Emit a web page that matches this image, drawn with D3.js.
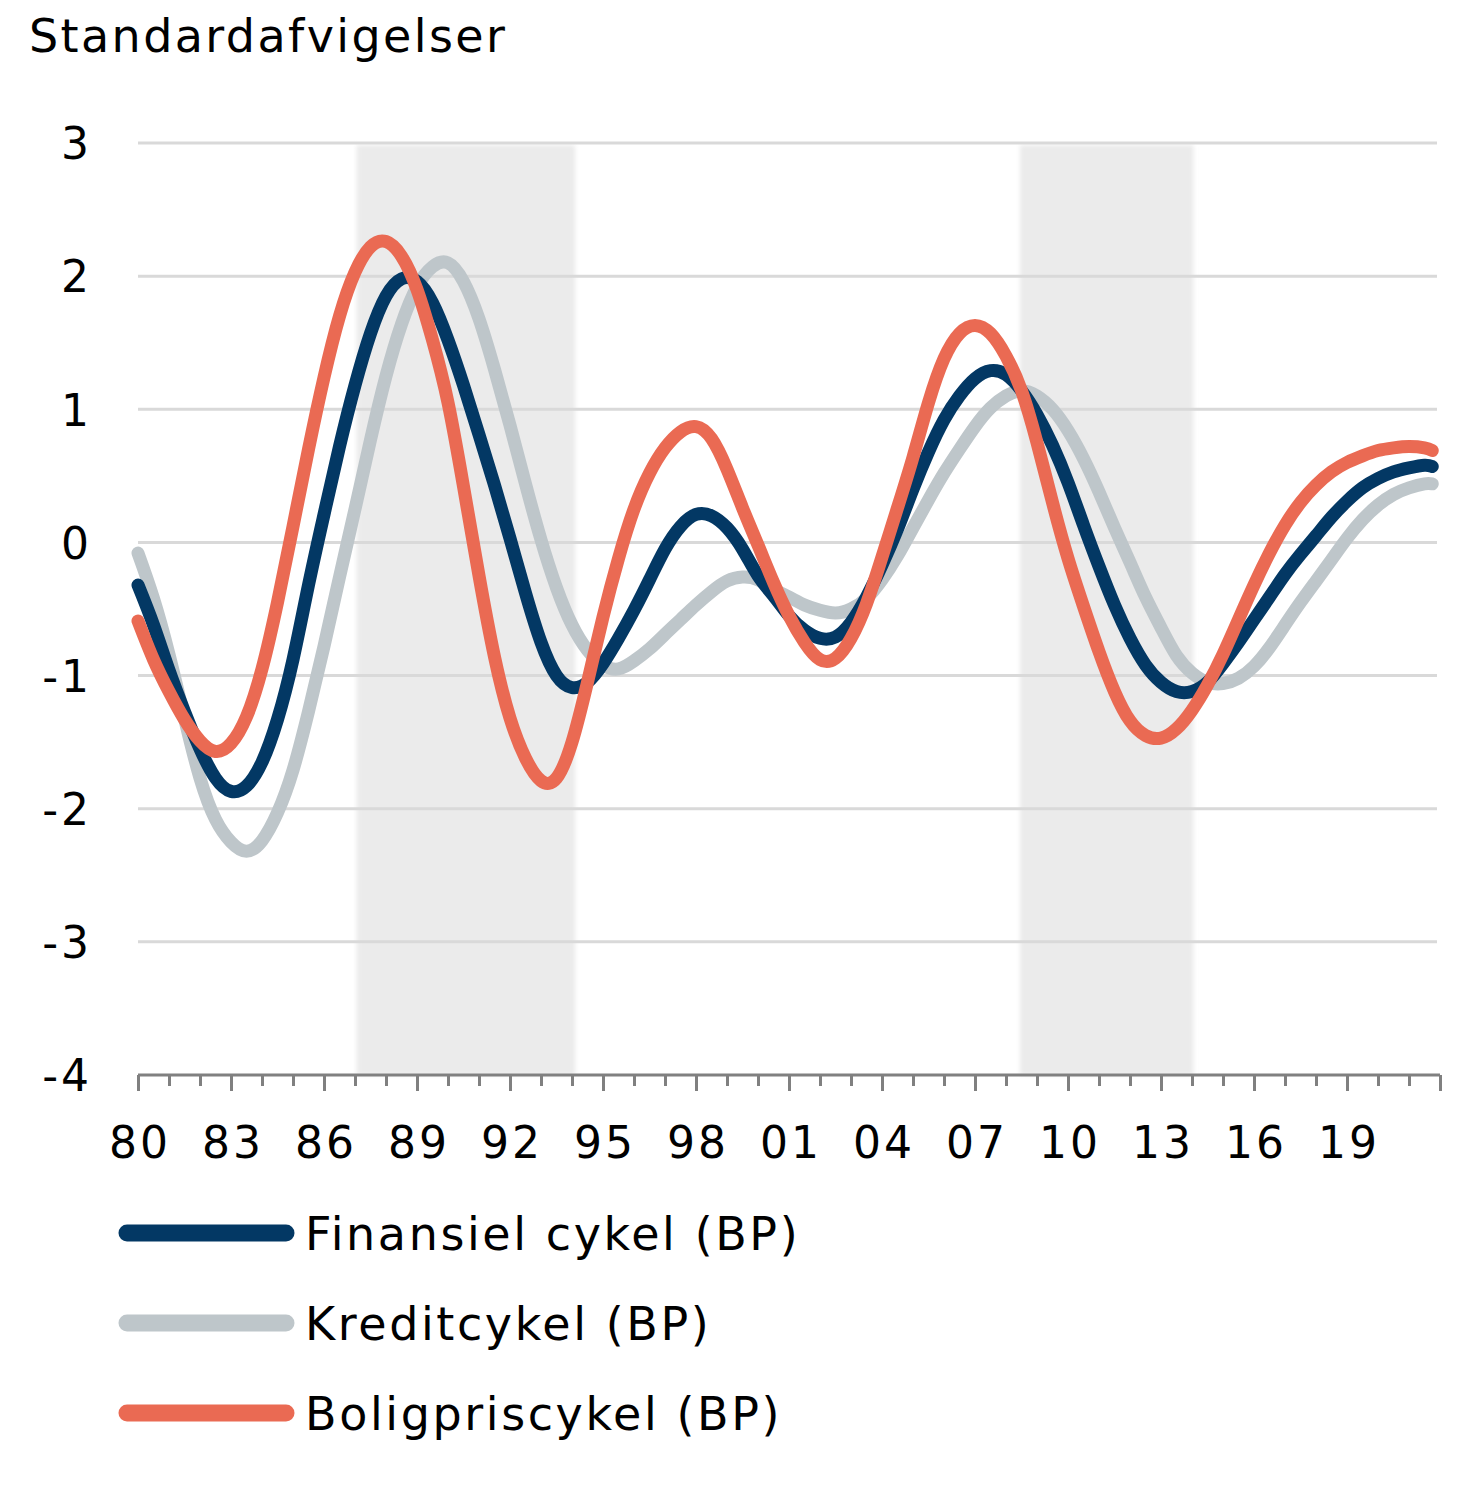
<!DOCTYPE html>
<html>
<head>
<meta charset="utf-8">
<script src="https://cdn.jsdelivr.net/npm/d3@7"></script>
<style>
  body { margin: 0; background: #fff; }
  text { font-family: "DejaVu Sans", Verdana, sans-serif; fill: #000; }
</style>
</head>
<body>
<svg id="chart" width="1481" height="1491"></svg>
<script>
// half-year observations
const years = [
  1980, 1980.5, 1981, 1981.5, 1982, 1982.5, 1983, 1983.5, 1984, 1984.5,
  1985, 1985.5, 1986, 1986.5, 1987, 1987.5, 1988, 1988.5, 1989, 1989.5,
  1990, 1990.5, 1991, 1991.5, 1992, 1992.5, 1993, 1993.5, 1994, 1994.5,
  1995, 1995.5, 1996, 1996.5, 1997, 1997.5, 1998, 1998.5, 1999, 1999.5,
  2000, 2000.5, 2001, 2001.5, 2002, 2002.5, 2003, 2003.5, 2004, 2004.5,
  2005, 2005.5, 2006, 2006.5, 2007, 2007.5, 2008, 2008.5, 2009, 2009.5,
  2010, 2010.5, 2011, 2011.5, 2012, 2012.5, 2013, 2013.5, 2014, 2014.5,
  2015, 2015.5, 2016, 2016.5, 2017, 2017.5, 2018, 2018.5, 2019, 2019.5,
  2020, 2020.5, 2021, 2021.5, 2021.75
];

const finansiel = [
  -0.32, -0.62, -0.96, -1.27, -1.55, -1.77, -1.87, -1.83, -1.65, -1.33,
  -0.88, -0.32, 0.21, 0.72, 1.18, 1.57, 1.85, 1.98, 1.96, 1.80,
  1.52, 1.18, 0.81, 0.43, 0.03, -0.38, -0.75, -1.00, -1.09, -1.05,
  -0.91, -0.72, -0.51, -0.28, -0.05, 0.12, 0.21, 0.20, 0.11, -0.05,
  -0.25, -0.40, -0.55, -0.66, -0.72, -0.71, -0.60, -0.41, -0.17, 0.10,
  0.40, 0.68, 0.92, 1.10, 1.23, 1.29, 1.26, 1.14, 0.96, 0.73,
  0.45, 0.13, -0.18, -0.47, -0.72, -0.92, -1.05, -1.12, -1.12, -1.05,
  -0.91, -0.75, -0.58, -0.41, -0.24, -0.09, 0.05, 0.19, 0.31, 0.41,
  0.48, 0.53, 0.56, 0.58, 0.57
];

const kredit = [
  -0.08, -0.42, -0.84, -1.32, -1.77, -2.08, -2.25, -2.32, -2.24, -2.03,
  -1.71, -1.27, -0.78, -0.26, 0.25, 0.77, 1.25, 1.64, 1.92, 2.07,
  2.10, 1.96, 1.68, 1.30, 0.88, 0.44, 0.02, -0.34, -0.62, -0.81,
  -0.92, -0.95, -0.89, -0.80, -0.69, -0.58, -0.47, -0.37, -0.29, -0.26,
  -0.28, -0.35, -0.41, -0.47, -0.51, -0.53, -0.50, -0.42, -0.28, -0.10,
  0.11, 0.32, 0.52, 0.70, 0.87, 1.01, 1.10, 1.14, 1.10, 1.00,
  0.84, 0.63, 0.38, 0.11, -0.15, -0.41, -0.64, -0.85, -0.98, -1.05,
  -1.06, -1.02, -0.93, -0.79, -0.62, -0.45, -0.29, -0.13, 0.03, 0.17,
  0.28, 0.36, 0.41, 0.44, 0.44
];

const boligpris = [
  -0.59, -0.88, -1.12, -1.33, -1.49, -1.57, -1.51, -1.31, -0.95, -0.45,
  0.12, 0.70, 1.24, 1.70, 2.03, 2.22, 2.26, 2.15, 1.90, 1.52,
  1.05, 0.42, -0.25, -0.86, -1.32, -1.62, -1.79, -1.77, -1.50, -1.05,
  -0.56, -0.12, 0.25, 0.52, 0.71, 0.83, 0.87, 0.78, 0.55, 0.26,
  -0.02, -0.30, -0.55, -0.75, -0.88, -0.87, -0.72, -0.46, -0.11, 0.26,
  0.64, 1.05, 1.38, 1.57, 1.63, 1.57, 1.40, 1.14, 0.75, 0.30,
  -0.12, -0.48, -0.82, -1.12, -1.34, -1.45, -1.47, -1.40, -1.26, -1.07,
  -0.84, -0.58, -0.32, -0.08, 0.13, 0.30, 0.43, 0.53, 0.60, 0.65,
  0.69, 0.71, 0.72, 0.71, 0.69
];

// shaded periods
const shadeStart = [1987.05, 2008.45];
const shadeEnd = [1994.1, 2014.05];

const yTicks = [3, 2, 1, 0, -1, -2, -3, -4];
const xLabelYears = [1980, 1983, 1986, 1989, 1992, 1995, 1998, 2001, 2004, 2007, 2010, 2013, 2016, 2019, 2022];
const allYears = d3.range(1980, 2023);

const seriesNames = ['Finansiel cykel (BP)', 'Kreditcykel (BP)', 'Boligpriscykel (BP)'];
const seriesColors = ['#033864', '#bec6ca', '#ea6a53'];
const seriesValues = [finansiel, kredit, boligpris];

const svg = d3.select('#chart');

const x = d3.scaleLinear().domain([1980, 2022]).range([138, 1440]);
const y = d3.scaleLinear().domain([-4, 3]).range([1075, 143]);

// title
svg.append('text')
  .attr('x', 29)
  .attr('y', 52)
  .attr('font-size', 46)
  .attr('letter-spacing', 2.4)
  .text('Standardafvigelser');

// shading
const defs = svg.append('defs');
defs.append('filter').attr('id', 'soft')
  .append('feGaussianBlur').attr('stdDeviation', 2);

svg.append('g')
  .selectAll('rect')
  .data(shadeStart.map((s, i) => ({ s, e: shadeEnd[i] })))
  .join('rect')
  .attr('x', d => x(d.s))
  .attr('width', d => x(d.e) - x(d.s))
  .attr('y', y(3) + 2)
  .attr('height', y(-4) - y(3) - 2)
  .attr('fill', '#ebebeb')
  .attr('filter', 'url(#soft)');

// grid lines
svg.append('g')
  .selectAll('line')
  .data(yTicks.filter(d => d > -4))
  .join('line')
  .attr('x1', 138)
  .attr('x2', 1437)
  .attr('y1', d => y(d))
  .attr('y2', d => y(d))
  .attr('stroke', '#d9d9d9')
  .attr('stroke-width', 3);

// y axis labels
const yAxis = svg.append('g')
  .attr('transform', 'translate(138,0)')
  .call(d3.axisLeft(y).tickValues(yTicks).tickSize(0).tickPadding(46).tickFormat(d => String(d)));
yAxis.select('.domain').remove();
yAxis.selectAll('text')
  .attr('font-size', 44)
  .attr('letter-spacing', 3)
  .attr('font-family', '"DejaVu Sans", Verdana, sans-serif')
  .attr('dy', '0.36em');

// x axis: minor ticks
const xMinor = svg.append('g')
  .attr('transform', `translate(0,${y(-4)})`)
  .call(d3.axisBottom(x).tickValues(allYears).tickSize(11).tickFormat(''));
xMinor.select('.domain').attr('stroke', '#808080').attr('stroke-width', 3).attr('d', `M138,0H1440`);
xMinor.selectAll('.tick line').attr('stroke', '#808080').attr('stroke-width', 3);

// x axis: major ticks + labels
const xMajor = svg.append('g')
  .attr('transform', `translate(0,${y(-4)})`)
  .call(d3.axisBottom(x).tickValues(xLabelYears).tickSize(16).tickPadding(36)
    .tickFormat(d => d === 2022 ? '' : String(d % 100).padStart(2, '0')));
xMajor.select('.domain').remove();
xMajor.selectAll('.tick line').attr('stroke', '#808080').attr('stroke-width', 3);
xMajor.selectAll('text')
  .attr('font-size', 44)
  .attr('letter-spacing', 3)
  .attr('dx', 1.5)
  .attr('font-family', '"DejaVu Sans", Verdana, sans-serif');

// series lines: grey first, then navy, orange on top
const line = d3.line()
  .x((d, i) => x(years[i]))
  .y(d => y(d))
  .curve(d3.curveNatural);

const drawOrder = [1, 0, 2];
svg.append('g')
  .selectAll('path')
  .data(drawOrder)
  .join('path')
  .attr('d', i => line(seriesValues[i]))
  .attr('fill', 'none')
  .attr('stroke', i => seriesColors[i])
  .attr('stroke-width', 13)
  .attr('stroke-linecap', 'round')
  .attr('stroke-linejoin', 'round');

// legend
const legend = svg.append('g');
const legendRows = legend.selectAll('g')
  .data(seriesNames)
  .join('g')
  .attr('transform', (d, i) => `translate(0,${1233 + i * 90})`);

legendRows.append('line')
  .attr('x1', 127)
  .attr('x2', 286)
  .attr('stroke', (d, i) => seriesColors[i])
  .attr('stroke-width', 17)
  .attr('stroke-linecap', 'round');

legendRows.append('text')
  .attr('x', 305)
  .attr('y', 17)
  .attr('font-size', 46)
  .attr('letter-spacing', 2.6)
  .text(d => d);
</script>
</body>
</html>
